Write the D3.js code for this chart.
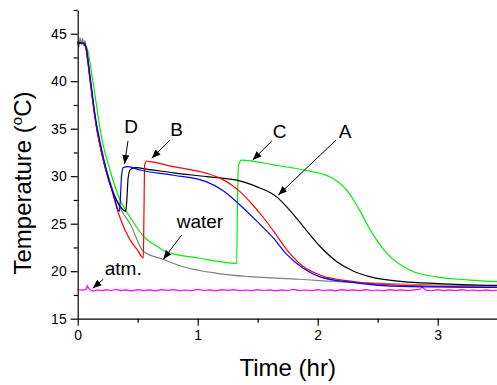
<!DOCTYPE html>
<html>
<head>
<meta charset="utf-8">
<script src="https://cdn.jsdelivr.net/npm/d3@7"></script>
<style>
  body { margin: 0; background: #fff; }
  svg { font-family: "Liberation Sans", Arial, sans-serif; }
  .axis path, .axis line { stroke: #000; stroke-width: 1.2; }
  .axis text { font-size: 14px; fill: #000; }
</style>
</head>
<body>
<div id="chart"></div>
<script>
// time (hr), temperature (degC)
const curveA = [[0,44.0],[0.05,44.0],[0.07,43.6],[0.1,40.6],[0.15,35.7],[0.2,32.4],[0.25,29.9],[0.3,28.1],[0.35,26.9],[0.40,26.3],[0.41,27.6],[0.42,29.8],[0.44,30.7],[0.48,30.9],[0.6,30.7],[0.8,30.35],[1.075,29.95],[1.35,29.5],[1.49,28.9],[1.6,28.3],[1.66,27.8],[1.74,26.8],[1.88,24.7],[2.02,22.6],[2.16,21.0],[2.3,20.0],[2.44,19.4],[2.71,18.9],[3.0,18.7],[3.5,18.5]];
const curveB = [[0,44.1],[0.05,44.0],[0.07,43.3],[0.1,40.3],[0.15,35.6],[0.2,32.4],[0.27,29.2],[0.35,25.7],[0.436,23.3],[0.5,22.2],[0.547,21.4],[0.552,26.0],[0.558,31.2],[0.575,31.6],[0.62,31.5],[0.8,31.0],[1.075,30.3],[1.186,29.8],[1.28,29.1],[1.35,28.4],[1.45,27.1],[1.55,25.6],[1.65,23.9],[1.74,22.3],[1.88,20.5],[2.02,19.6],[2.3,18.9],[2.7,18.5],[3.5,18.3]];
const curveC = [[0,44.0],[0.05,43.9],[0.08,43.4],[0.125,40.1],[0.2,34.0],[0.27,30.6],[0.35,27.6],[0.436,25.7],[0.547,23.7],[0.65,22.7],[0.74,22.05],[1.02,21.36],[1.325,20.83],[1.33,26.0],[1.34,31.2],[1.367,31.7],[1.63,31.2],[1.88,30.65],[2.1,29.95],[2.24,28.55],[2.35,26.4],[2.44,24.3],[2.575,21.9],[2.77,20.1],[2.99,19.4],[3.27,19.07],[3.5,18.9]];
const curveD = [[0,44.1],[0.05,44.0],[0.07,43.5],[0.1,40.8],[0.15,36.0],[0.2,32.8],[0.24,30.6],[0.3,28.0],[0.347,26.3],[0.355,27.5],[0.365,30.0],[0.38,30.9],[0.42,31.0],[0.52,30.65],[0.8,30.1],[1.075,29.4],[1.21,28.5],[1.35,27.0],[1.49,25.3],[1.63,23.5],[1.74,21.8],[1.88,20.3],[2.02,19.4],[2.3,18.8],[2.7,18.4],[3.5,18.3]];
const water = [[0,44.2],[0.01,43.6],[0.02,44.6],[0.03,43.9],[0.04,44.5],[0.05,43.7],[0.06,44.3],[0.07,43.4],[0.1,40.6],[0.15,35.9],[0.2,32.6],[0.3,28.3],[0.36,26.5],[0.436,25.0],[0.547,22.1],[0.71,21.25],[0.88,20.47],[1.16,19.78],[1.44,19.42],[1.85,19.15],[2.16,18.9],[2.7,18.65],[3.5,18.45]];
const atm = [[0,18.05],[0.04,18.0],[0.07,18.1],[0.08,18.45],[0.1,18.05],[0.13,17.9],[0.17,18.02],[0.2,17.95],[0.24,18.05],[0.28,17.97],[0.32,18.08],[0.36,17.96],[0.4,18.03],[0.45,17.94],[0.5,18.06],[0.55,17.98],[0.6,18.04],[0.65,17.93],[0.7,18.05],[0.75,17.98],[0.8,18.07],[0.85,17.96],[0.9,18.02],[0.95,17.95],[1.0,18.08],[1.05,17.97],[1.1,18.03],[1.15,17.94],[1.2,18.05],[1.25,17.98],[1.3,18.06],[1.35,17.95],[1.4,18.02],[1.45,17.96],[1.5,18.07],[1.55,17.97],[1.6,18.04],[1.65,17.93],[1.7,18.03],[1.75,17.97],[1.8,18.08],[1.85,17.95],[1.9,18.02],[1.95,17.96],[2.0,18.05],[2.05,17.97],[2.1,18.04],[2.15,17.94],[2.2,18.06],[2.25,17.98],[2.3,18.03],[2.35,17.95],[2.4,18.05],[2.45,17.97],[2.5,18.02],[2.55,17.94],[2.6,18.06],[2.65,17.98],[2.7,18.04],[2.75,17.95],[2.8,18.03],[2.85,18.1],[2.87,18.35],[2.9,18.0],[2.95,17.94],[3.0,18.05],[3.05,17.96],[3.1,18.03],[3.15,17.95],[3.2,18.06],[3.25,17.97],[3.3,18.02],[3.35,17.94],[3.4,18.04],[3.45,17.96],[3.5,18.0]];

const xTicks = [0, 1, 2, 3];
const xMinor = [0.5, 1.5, 2.5, 3.5];
const yTicks = [15, 20, 25, 30, 35, 40, 45];
const yMinor = [17.5, 22.5, 27.5, 32.5, 37.5, 42.5, 47.5];

// label, text pos, arrow from, arrow to (data units)
const notes = [
  { text: 'D', at: [0.445, 34.6], from: [0.419, 33.7], to: [0.39, 31.3] },
  { text: 'B', at: [0.825, 34.18], from: [0.769, 33.81], to: [0.617, 31.88] },
  { text: 'C', at: [1.682, 33.97], from: [1.617, 33.7], to: [1.458, 31.7] },
  { text: 'A', at: [2.228, 33.97], from: [2.153, 33.81], to: [1.672, 28.02] },
  { text: 'water', at: [1.019, 24.52], from: [0.867, 23.81], to: [0.713, 21.25] },
  { text: 'atm.', at: [0.379, 19.6], from: [0.213, 19.15], to: [0.125, 18.2] }
];

const width = 497, height = 385;
const svg = d3.select('#chart').append('svg')
  .attr('width', width)
  .attr('height', height);

const x = d3.scaleLinear().domain([0, 3.5]).range([77.7, 497.7]);
const y = d3.scaleLinear().domain([15, 47.5]).range([318.7, 9.95]);

svg.append('defs').append('marker')
  .attr('id', 'arr')
  .attr('viewBox', '0 0 10 10')
  .attr('refX', 10).attr('refY', 5)
  .attr('markerWidth', 9).attr('markerHeight', 9)
  .attr('markerUnits', 'userSpaceOnUse')
  .attr('orient', 'auto')
  .append('path').attr('d', 'M0,1 L10,5 L0,9 z').attr('fill', '#000');

const line = d3.line()
  .x(d => x(d[0]))
  .y(d => y(d[1]))
  .curve(d3.curveMonotoneX);

const series = [
  { data: water, color: '#808080', curve: d3.curveMonotoneX },
  { data: atm, color: '#ff00ff', curve: d3.curveLinear },
  { data: curveC, color: '#00ee00', curve: d3.curveMonotoneX },
  { data: curveA, color: '#000000', curve: d3.curveMonotoneX },
  { data: curveB, color: '#ff0000', curve: d3.curveMonotoneX },
  { data: curveD, color: '#0000ff', curve: d3.curveMonotoneX }
];

series.forEach(s => {
  svg.append('path')
    .datum(s.data)
    .attr('fill', 'none')
    .attr('stroke', s.color)
    .attr('stroke-width', 1.2)
    .attr('d', line.curve(s.curve));
});

// axes
svg.append('g')
  .attr('class', 'axis')
  .attr('transform', `translate(0,${y(15)})`)
  .call(d3.axisBottom(x).tickValues(xTicks).tickFormat(d3.format('d')).tickSize(7).tickSizeOuter(0).tickPadding(4));
svg.append('g')
  .attr('class', 'axis')
  .attr('transform', `translate(0,${y(15)})`)
  .call(d3.axisBottom(x).tickValues(xMinor).tickFormat('').tickSize(4).tickSizeOuter(0))
  .select('.domain').remove();

svg.append('g')
  .attr('class', 'axis')
  .attr('transform', `translate(${x(0)},0)`)
  .call(d3.axisLeft(y).tickValues(yTicks).tickSize(7).tickSizeOuter(0).tickPadding(4));
svg.append('g')
  .attr('class', 'axis')
  .attr('transform', `translate(${x(0)},0)`)
  .call(d3.axisLeft(y).tickValues(yMinor).tickFormat('').tickSize(4).tickSizeOuter(0))
  .select('.domain').remove();

// titles
svg.append('text')
  .attr('x', (x(0) + x(3.5)) / 2)
  .attr('y', 376)
  .attr('text-anchor', 'middle')
  .attr('font-size', 24)
  .text('Time (hr)');

const yt = svg.append('text')
  .attr('transform', 'translate(31,183) rotate(-90)')
  .attr('text-anchor', 'middle')
  .attr('font-size', 24);
yt.append('tspan').text('Temperature (');
yt.append('tspan').attr('font-size', 15).attr('dy', -9).text('o');
yt.append('tspan').attr('dy', 9).text('C)');

// annotations
const g = svg.append('g');
notes.forEach(n => {
  g.append('text')
    .attr('x', x(n.at[0]))
    .attr('y', y(n.at[1]))
    .attr('text-anchor', 'middle')
    .attr('font-size', 19)
    .text(n.text);
  g.append('line')
    .attr('x1', x(n.from[0])).attr('y1', y(n.from[1]))
    .attr('x2', x(n.to[0])).attr('y2', y(n.to[1]))
    .attr('stroke', '#000')
    .attr('stroke-width', 1)
    .attr('marker-end', 'url(#arr)');
});
</script>
</body>
</html>
